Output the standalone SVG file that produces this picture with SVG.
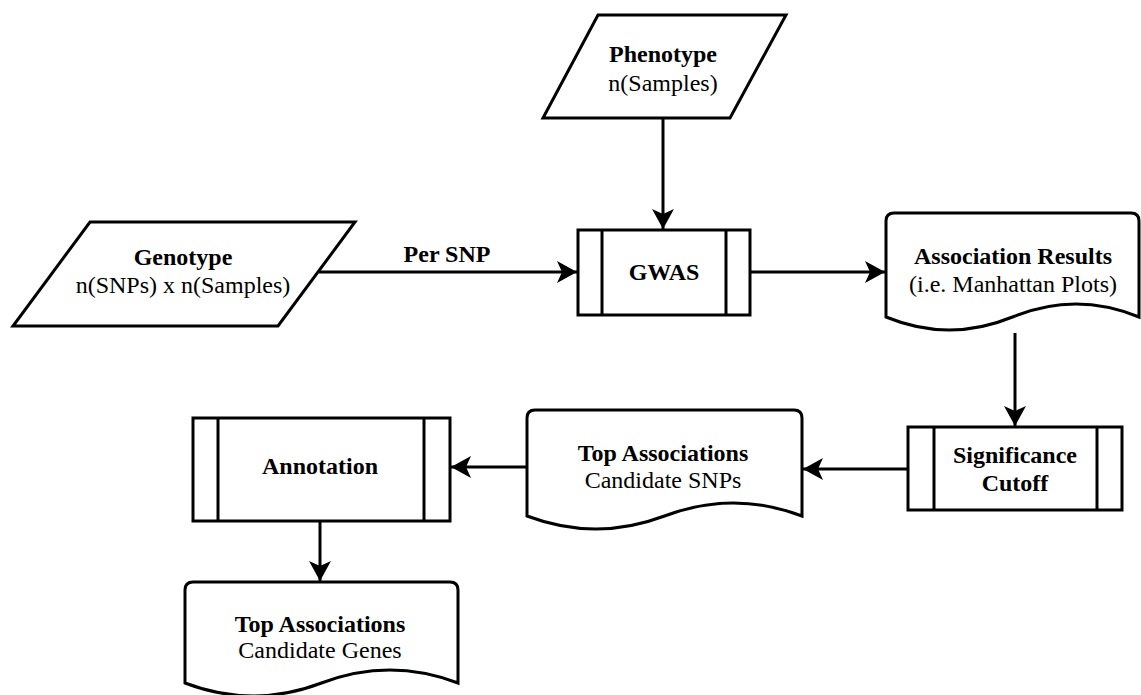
<svg xmlns="http://www.w3.org/2000/svg" width="1141" height="695" viewBox="0 0 1141 695">
  <defs>
    <style>
      .shape { fill: #ffffff; stroke: #000000; stroke-width: 3; stroke-linejoin: miter; }
      .bar { fill: none; stroke: #000000; stroke-width: 3; }
      .edge { fill: none; stroke: #000000; stroke-width: 3; }
      text { font-family: "Liberation Serif", "Times New Roman", serif; font-size: 24px; fill: #000000; text-anchor: middle; }
      .b { font-weight: bold; }
    </style>
    <marker id="arrow" viewBox="0 0 20 22" refX="20" refY="11" markerWidth="20" markerHeight="22" markerUnits="userSpaceOnUse" orient="auto">
      <path d="M20,11 L0,0 L5,11 L0,22 Z" fill="#000000"/>
    </marker>
  </defs>

  <rect x="0" y="0" width="1141" height="695" fill="#ffffff"/>

  <!-- connectors -->
  <g id="connectors">
    <line class="edge" x1="663" y1="118" x2="663" y2="229" marker-end="url(#arrow)"/>
    <line class="edge" x1="319" y1="272" x2="577" y2="272" marker-end="url(#arrow)"/>
    <line class="edge" x1="750" y1="272" x2="885" y2="272" marker-end="url(#arrow)"/>
    <line class="edge" x1="1015" y1="333" x2="1015" y2="426" marker-end="url(#arrow)"/>
    <line class="edge" x1="908" y1="469" x2="803" y2="469" marker-end="url(#arrow)"/>
    <line class="edge" x1="527" y1="467" x2="451" y2="467" marker-end="url(#arrow)"/>
    <line class="edge" x1="320" y1="521" x2="320" y2="581" marker-end="url(#arrow)"/>
    <text class="b" x="447" y="262">Per SNP</text>
  </g>

  <!-- input: phenotype -->
  <g id="phenotype">
    <polygon class="shape" points="598,15 786,15 730,118 543,118"/>
    <text class="b" x="663" y="62">Phenotype</text>
    <text x="663" y="91">n(Samples)</text>
  </g>

  <!-- input: genotype -->
  <g id="genotype">
    <polygon class="shape" points="90,222 355,222 278,326 13,326"/>
    <text class="b" x="183" y="265">Genotype</text>
    <text x="183" y="293">n(SNPs) x n(Samples)</text>
  </g>

  <!-- process: GWAS -->
  <g id="gwas">
    <rect class="shape" x="578" y="230" width="172" height="85"/>
    <line class="bar" x1="602" y1="230" x2="602" y2="315"/>
    <line class="bar" x1="726" y1="230" x2="726" y2="315"/>
    <text class="b" x="664" y="280">GWAS</text>
  </g>

  <!-- document: association results -->
  <g id="association-results">
    <path class="shape" d="M886,317 L886,221 Q886,213 894,213 L1131,213 Q1139,213 1139,221 L1139,317 Q1075.75,291 1012.5,317 Q949.25,343 886,317 Z"/>
    <text class="b" x="1013" y="264">Association Results</text>
    <text x="1013" y="292">(i.e. Manhattan Plots)</text>
  </g>

  <!-- process: significance cutoff -->
  <g id="significance-cutoff">
    <rect class="shape" x="908" y="427" width="214" height="83"/>
    <line class="bar" x1="934" y1="427" x2="934" y2="510"/>
    <line class="bar" x1="1097" y1="427" x2="1097" y2="510"/>
    <text class="b" x="1015" y="463">Significance</text>
    <text class="b" x="1015" y="491">Cutoff</text>
  </g>

  <!-- document: candidate SNPs -->
  <g id="top-snps">
    <path class="shape" d="M527,516 L527,418 Q527,410 535,410 L794,410 Q802,410 802,418 L802,516 Q733.25,490 664.5,516 Q595.75,542 527,516 Z"/>
    <text class="b" x="663" y="461">Top Associations</text>
    <text x="663" y="488">Candidate SNPs</text>
  </g>

  <!-- process: annotation -->
  <g id="annotation">
    <rect class="shape" x="193" y="418" width="257" height="103"/>
    <line class="bar" x1="218" y1="418" x2="218" y2="521"/>
    <line class="bar" x1="424" y1="418" x2="424" y2="521"/>
    <text class="b" x="320" y="474">Annotation</text>
  </g>

  <!-- document: candidate genes -->
  <g id="top-genes">
    <path class="shape" d="M185,683 L185,590 Q185,582 193,582 L450,582 Q458,582 458,590 L458,683 Q389.75,657 321.5,683 Q253.25,709 185,683 Z"/>
    <text class="b" x="320" y="632">Top Associations</text>
    <text x="320" y="658">Candidate Genes</text>
  </g>
</svg>
